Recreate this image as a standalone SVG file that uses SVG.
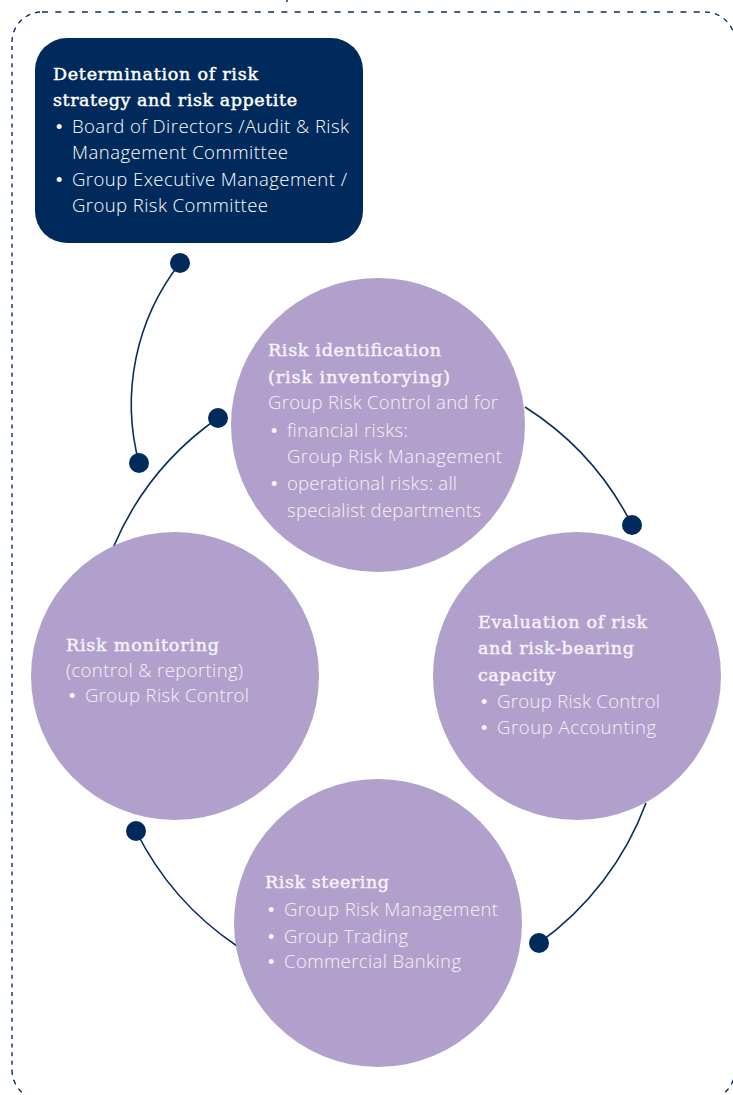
<svg xmlns="http://www.w3.org/2000/svg" width="733" height="1095" viewBox="0 0 733 1095">
  <style>
    .frame { fill: none; stroke: #0b2d5e; stroke-width: 1.4; }
    .frame-h { stroke-dasharray: 6 7.3; }
    .frame-v { stroke-dasharray: 4 4.6; }
    .link { fill: none; stroke: #0b2d5e; stroke-width: 1.6; }
    .dot { fill: #012a5c; }
    .stage { fill: #b1a0cb; }
    .lead { fill: #012a5c; }
    .head { font-family: "DejaVu Serif", "Liberation Serif", serif; font-weight: normal; font-size: 17.5px; stroke-width: 0.45px; }
    .body { font-family: "Open Sans", "Liberation Sans", sans-serif; font-weight: 300; font-size: 18.5px; }
    .bullet { font-family: "Liberation Sans", sans-serif; font-weight: normal; font-size: 18px; }
    .on-navy { fill: #ffffff; }
    .head.on-navy { stroke: #ffffff; }
    .on-lilac { fill: #f6f2fa; }
    .head.on-lilac { stroke: #f6f2fa; }
  </style>

  <!-- dashed outer frame -->
  <g id="frame">
    <path class="frame frame-h" d="M42,12 H705"/>
    <path class="frame" d="M12,42 A30,30 0 0 1 42,12" stroke-dasharray="5 5"/>
    <path class="frame" d="M705,12 A30,30 0 0 1 735,42" stroke-dasharray="5 5"/>
    <path class="frame frame-v" d="M12,46 V1070"/>
    <path class="frame" d="M12,1070 A30,30 0 0 0 42,1100" stroke-dasharray="5 5"/>
    <path class="frame" d="M735,1070 A30,30 0 0 1 705,1100" stroke-dasharray="5 5"/>
    <path class="frame" d="M287,0 V2"/>
  </g>

  <!-- connectors between the stages -->
  <g id="connectors">
    <path class="link" d="M180,263 A229,229 0 0 0 139,463"/>
    <path class="link" d="M218,418 A300,300 0 0 0 113,548"/>
    <path class="link" d="M525,407 A300,300 0 0 1 632,525"/>
    <path class="link" d="M646,803 A300,300 0 0 1 539,943"/>
    <path class="link" d="M136,831 A300,300 0 0 0 237,946"/>
  </g>

  <g id="strategy">
    <rect class="lead" x="35" y="38" width="328" height="205" rx="32" ry="32"/>
    <text class="head on-navy" x="53" y="80" textLength="205">Determination of risk</text>
    <text class="head on-navy" x="53" y="106" textLength="244">strategy and risk appetite</text>
    <text class="bullet on-navy" x="56" y="133">•</text>
    <text class="body on-navy" x="72" y="133" textLength="277">Board of Directors /Audit &amp; Risk</text>
    <text class="body on-navy" x="72" y="159" textLength="216">Management Committee</text>
    <text class="bullet on-navy" x="56" y="186">•</text>
    <text class="body on-navy" x="72" y="186" textLength="275">Group Executive Management /</text>
    <text class="body on-navy" x="72" y="212" textLength="196">Group Risk Committee</text>
  </g>

  <g id="identification">
    <circle class="stage" cx="378" cy="425" r="147"/>
    <text class="head on-lilac" x="268" y="356" textLength="173">Risk identification</text>
    <text class="head on-lilac" x="268" y="383" textLength="182">(risk inventorying)</text>
    <text class="body on-lilac" x="268" y="409" textLength="230">Group Risk Control and for</text>
    <text class="bullet on-lilac" x="271" y="437">•</text>
    <text class="body on-lilac" x="287" y="437" textLength="121">financial risks:</text>
    <text class="body on-lilac" x="287" y="463" textLength="215">Group Risk Management</text>
    <text class="bullet on-lilac" x="271" y="490">•</text>
    <text class="body on-lilac" x="287" y="490" textLength="170">operational risks: all</text>
    <text class="body on-lilac" x="287" y="517" textLength="194">specialist departments</text>
  </g>

  <g id="evaluation">
    <circle class="stage" cx="577" cy="676" r="144"/>
    <text class="head on-lilac" x="478" y="628" textLength="169">Evaluation of risk</text>
    <text class="head on-lilac" x="478" y="654" textLength="156">and risk-bearing</text>
    <text class="head on-lilac" x="478" y="681" textLength="78">capacity</text>
    <text class="bullet on-lilac" x="481" y="708">•</text>
    <text class="body on-lilac" x="497" y="708" textLength="163">Group Risk Control</text>
    <text class="bullet on-lilac" x="481" y="734">•</text>
    <text class="body on-lilac" x="497" y="734" textLength="159">Group Accounting</text>
  </g>

  <g id="steering">
    <circle class="stage" cx="378" cy="923" r="144"/>
    <text class="head on-lilac" x="265" y="888" textLength="124">Risk steering</text>
    <text class="bullet on-lilac" x="268" y="916">•</text>
    <text class="body on-lilac" x="284" y="916" textLength="214">Group Risk Management</text>
    <text class="bullet on-lilac" x="268" y="943">•</text>
    <text class="body on-lilac" x="284" y="943" textLength="124">Group Trading</text>
    <text class="bullet on-lilac" x="268" y="968">•</text>
    <text class="body on-lilac" x="284" y="968" textLength="177">Commercial Banking</text>
  </g>

  <g id="monitoring">
    <circle class="stage" cx="175" cy="676" r="144"/>
    <text class="head on-lilac" x="66" y="651" textLength="153">Risk monitoring</text>
    <text class="body on-lilac" x="66" y="677" textLength="177">(control &amp; reporting)</text>
    <text class="bullet on-lilac" x="69" y="702">•</text>
    <text class="body on-lilac" x="85" y="702" textLength="164">Group Risk Control</text>
  </g>

  <!-- connector end points, drawn above the stages -->
  <g id="dots">
    <circle class="dot" cx="180" cy="263" r="10"/>
    <circle class="dot" cx="139" cy="463" r="10"/>
    <circle class="dot" cx="218" cy="418" r="10"/>
    <circle class="dot" cx="632" cy="525" r="10"/>
    <circle class="dot" cx="539" cy="943" r="10"/>
    <circle class="dot" cx="136" cy="831" r="10"/>
  </g>
</svg>
